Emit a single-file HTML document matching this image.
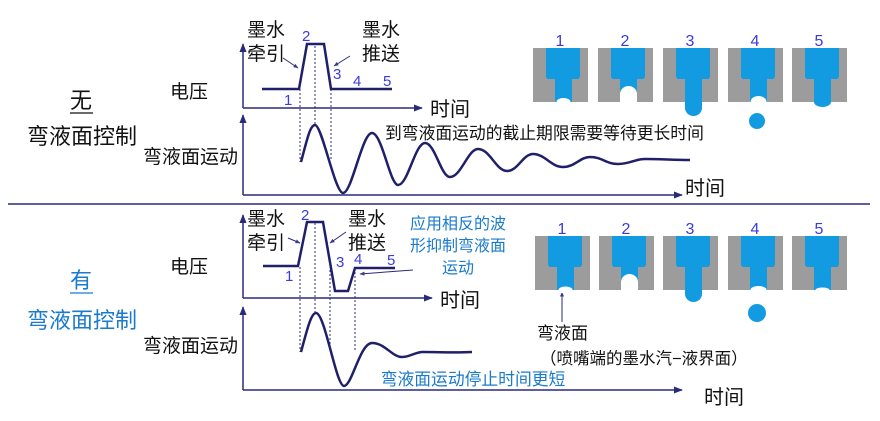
<!DOCTYPE html>
<html><head><meta charset="utf-8"><style>
body{margin:0;background:#fff;width:880px;height:416px;overflow:hidden}
svg text{font-family:"Liberation Sans","Noto Sans CJK SC",sans-serif}
</style></head><body>
<svg width="880" height="416" viewBox="0 0 880 416" xmlns="http://www.w3.org/2000/svg">
<defs>
<marker id="ar" viewBox="0 0 10 10" refX="9" refY="5" markerWidth="6" markerHeight="6" orient="auto"><path d="M0,1 L10,5 L0,9z" fill="#2a2a7a"/></marker>
<marker id="ar2" viewBox="0 0 10 10" refX="9" refY="5" markerWidth="5" markerHeight="5" orient="auto"><path d="M0,1 L10,5 L0,9z" fill="#3a3a8a"/></marker>
<g id="nz">
<rect x="0" y="0" width="55" height="54" fill="#9c9c9c"/>
<path d="M13,0 H47 V28 Q47,31 44,31 H39 V54 H22 V31 H16 Q13,31 13,28Z" fill="#139be2"/>
</g>
</defs>
<g fill="none" stroke="#2a2a7a" stroke-width="1.5">
<path d="M243,108 V44" marker-end="url(#ar)"/>
<path d="M243,108 H422" marker-end="url(#ar)"/>
<path d="M243,195 V115" marker-end="url(#ar)"/>
<path d="M243,195 H682" marker-end="url(#ar)"/>
<path d="M262,89 H299 L307,44 H324 L331,89 H392" stroke="#1f1f6a" stroke-width="2.5"/>
<path d="M301,162 C307,140 310,125 315,125 C322,125 335,193 343,193 C352,193 362,133 372,133 C382,133 390,185 398,185 C408,185 415,143 425,143 C435,143 441,177 450,177 C461,177 468,149 478,149 C490,149 496,171 507,171 C518,171 523,154 533,154 C545,154 551,167 563,167 C575,167 580,157 590,157 C602,157 606,164 618,164 C630,164 635,159 645,159 C660,159 675,160 690,160" stroke="#1f1f6a" stroke-width="2.5"/>
<path d="M300,89 V162 M315,46 V125 M331,89 V160" stroke-dasharray="2,2" stroke-width="1"/>
<path d="M283,58 L298,68" marker-end="url(#ar2)" stroke-width="1"/>
<path d="M350,56 L334,66" marker-end="url(#ar2)" stroke-width="1"/>
<path d="M8,204 H870" stroke-width="1.5"/>
<path d="M243,298 V215" marker-end="url(#ar)"/>
<path d="M243,298 H432" marker-end="url(#ar)"/>
<path d="M243,390 V307" marker-end="url(#ar)"/>
<path d="M243,390 H682" marker-end="url(#ar)"/>
<path d="M263,266 H298 L307,222 H323 L335,291 H348 L355,268 H395" stroke="#1f1f6a" stroke-width="2.5"/>
<path d="M301,352 C307,330 311,313 316,313 C325,313 336,386 344,386 C352,386 360,343 372,343 C385,343 392,357 402,357 C410,357 415,352 423,352 C440,352 455,353 472,352" stroke="#1f1f6a" stroke-width="2.5"/>
<path d="M300,267 V352 M315,223 V313 M330,262 V350 M355,268 V350" stroke-dasharray="2,2" stroke-width="1"/>
<path d="M288,238 L300,243" marker-end="url(#ar2)" stroke-width="1"/>
<path d="M346,232 L330,243" marker-end="url(#ar2)" stroke-width="1"/>
<path d="M413,270 L360,274" marker-end="url(#ar2)" stroke-width="1"/>
<path d="M562,322 L562,292" marker-end="url(#ar2)" stroke-width="1"/>
</g>
<g transform="translate(533,48)"><use href="#nz"/><ellipse cx="30.5" cy="54" rx="7" ry="4" fill="#fff"/></g>
<g transform="translate(598,48)"><use href="#nz"/><path d="M22,54 V46 A8.5,8 0 0 1 39,46 V54Z" fill="#fff"/></g>
<g transform="translate(663,48)"><use href="#nz"/><path d="M22,54 V60 A8.5,8 0 0 0 39,60 V54Z" fill="#139be2"/></g>
<g transform="translate(728,48)"><use href="#nz"/><ellipse cx="30.5" cy="54" rx="8" ry="6" fill="#fff"/><circle cx="29" cy="73" r="8" fill="#139be2"/></g>
<g transform="translate(792,48)"><use href="#nz"/><path d="M22,54 A8.5,5 0 0 0 39,54Z" fill="#139be2"/></g>
<g transform="translate(535,236)"><use href="#nz"/><ellipse cx="30.5" cy="54" rx="7" ry="3.5" fill="#fff"/></g>
<g transform="translate(599,236)"><use href="#nz"/><path d="M22,54 V46 A8.5,8 0 0 1 39,46 V54Z" fill="#fff"/></g>
<g transform="translate(663,236)"><use href="#nz"/><path d="M22,54 V58 A8.5,8 0 0 0 39,58 V54Z" fill="#139be2"/></g>
<g transform="translate(728,236)"><use href="#nz"/><ellipse cx="30.5" cy="54" rx="8" ry="4" fill="#fff"/><circle cx="29" cy="77" r="9" fill="#139be2"/></g>
<g transform="translate(792,236)"><use href="#nz"/><ellipse cx="30.5" cy="54" rx="7" ry="2.5" fill="#fff"/></g>
<g font-size="16" fill="#3b3bdc" text-anchor="middle">
<text x="560" y="46">1</text><text x="625" y="46">2</text><text x="690" y="46">3</text><text x="755" y="46">4</text><text x="819" y="46">5</text>
<text x="562" y="234">1</text><text x="626" y="234">2</text><text x="690" y="234">3</text><text x="755" y="234">4</text><text x="819" y="234">5</text>
</g>
<g font-size="15" fill="#3b3bdc">
<text x="302" y="41">2</text><text x="333" y="79">3</text><text x="353" y="86">4</text><text x="383" y="86">5</text><text x="284" y="105">1</text>
<text x="301" y="220">2</text><text x="336" y="267">3</text><text x="354" y="264">4</text><text x="387" y="265">5</text><text x="285" y="281">1</text>
</g>
<g font-size="19" fill="#111">
<text x="247" y="36">墨水</text><text x="247" y="60">牵引</text>
<text x="362" y="36">墨水</text><text x="362" y="60">推送</text>
<text x="247" y="225">墨水</text><text x="247" y="249">牵引</text>
<text x="348" y="225">墨水</text><text x="348" y="249">推送</text>
<text x="170" y="98">电压</text>
<text x="170" y="273">电压</text>
<text x="143" y="163">弯液面运动</text>
<text x="143" y="352">弯液面运动</text>
</g>
<g font-size="20" fill="#111">
<text x="430" y="116">时间</text>
<text x="685" y="195">时间</text>
<text x="440" y="307">时间</text>
<text x="704" y="404">时间</text>
</g>
<text x="385" y="139" font-size="16.8" fill="#111">到弯液面运动的截止期限需要等待更长时间</text>
<g font-size="22">
<text x="70" y="108" fill="#111">无</text>
<path d="M70,113 H93" stroke="#111" stroke-width="1.3"/>
<text x="27" y="144" fill="#111">弯液面控制</text>
<text x="70" y="288" fill="#1a7acb">有</text>
<path d="M70,293 H93" stroke="#1a7acb" stroke-width="1.3"/>
<text x="27" y="328" fill="#1a7acb">弯液面控制</text>
</g>
<g font-size="16" fill="#1a7acb" text-anchor="middle">
<text x="458" y="229">应用相反的波</text>
<text x="458" y="251">形抑制弯液面</text>
<text x="458" y="273">运动</text>
<text x="473" y="385" font-size="16.8">弯液面运动停止时间更短</text>
</g>
<text x="537" y="339" font-size="17" fill="#111">弯液面</text>
<text x="540" y="364" font-size="16.5" fill="#111">（喷嘴端的墨水汽−液界面）</text>
</svg>
</body></html>
